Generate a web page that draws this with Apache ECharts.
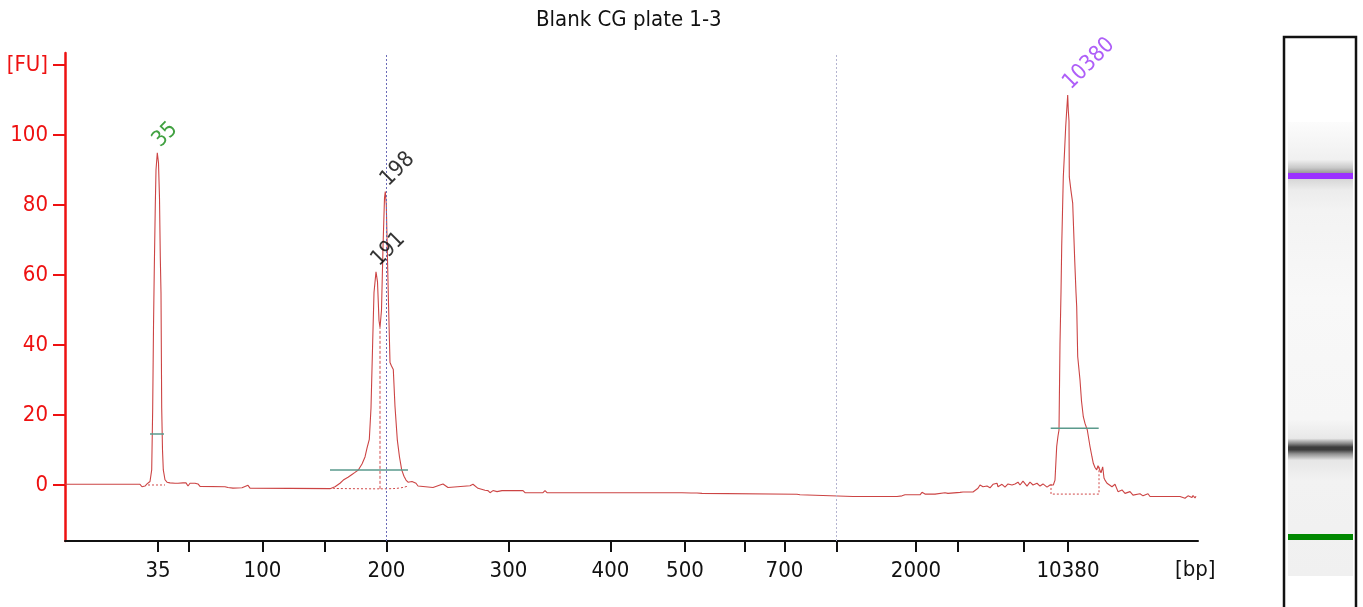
<!DOCTYPE html>
<html>
<head>
<meta charset="utf-8">
<title>Blank CG plate 1-3</title>
<script src="https://cdn.jsdelivr.net/npm/echarts@6/dist/echarts.min.js"></script>
<style>
  html, body { margin: 0; padding: 0; background: #fff; }
  #chart { width: 1363px; height: 607px; }
</style>
</head>
<body>
<div id="chart"></div>
<script>
// migration time [s] and fluorescence [FU] of the trace
const traceTime = [
  36.5, 37.0, 38.0, 38.2, 38.4, 39.3, 39.5, 39.7, 40.3, 40.5, 40.7, 44.0, 44.2, 44.5, 44.7, 44.8,
  45.0, 45.17, 45.27, 45.35, 45.43, 45.53, 45.6, 45.73, 45.85, 45.95, 46.03, 46.1, 46.17, 46.25, 46.33,
  46.5, 46.7, 47.0, 47.2, 47.5, 47.8, 48.0, 48.3, 48.6, 48.8, 49.0, 49.5, 49.8, 50.0, 52.5, 52.6,
  52.8, 53.0, 53.3, 54.2, 54.8, 55.0, 55.2, 63.0, 63.5, 64.0, 64.33, 64.8, 65.2, 65.5, 65.83, 66.2,
  66.5, 66.7, 66.93, 67.1, 67.27, 67.4, 67.6, 67.75, 67.9, 68.0, 68.15, 68.3, 68.45, 68.53, 68.63,
  68.73, 68.85, 69.0, 69.15, 69.33, 69.5, 69.73, 69.95, 70.17, 70.4, 70.6, 70.8, 71.0, 71.2, 71.4,
  71.6, 71.8, 72.0, 73.3, 73.5, 74.0, 74.3, 74.8, 75.0, 77.0, 77.2, 77.3, 77.8, 78.0, 78.5, 78.8,
  79.0, 79.3, 79.7, 80.2, 82.3, 82.5, 84.3, 84.5, 84.7, 86.8, 87.0, 87.2, 98.2, 98.3, 99.1, 99.3,
  99.7, 100.2, 100.3, 109.7, 109.8, 110.0, 110.2, 115.3, 115.5, 115.8, 119.7, 119.8, 120.2, 120.5,
  122.0, 122.2, 122.5, 123.5, 123.7, 124.5, 124.7, 124.8, 126.0, 126.3, 127.3, 127.5, 127.8, 128.0,
  128.3, 128.7, 129.0, 129.3, 129.7, 129.8, 130.2, 130.5, 130.8, 131.2, 131.5, 131.8, 132.0, 132.3,
  132.7, 133.0, 133.3, 133.7, 134.0, 134.3, 134.7, 135.0, 135.2, 135.33, 135.5, 135.67, 135.8, 135.9,
  136.0, 136.1, 136.17, 136.25, 136.33, 136.45, 136.57, 136.67, 136.77, 136.83, 136.9, 136.93, 137.1,
  137.27, 137.47, 137.6, 137.67, 137.77, 138.0, 138.15, 138.33, 138.5, 138.73, 139.0, 139.2, 139.33,
  139.5, 139.67, 139.8, 140.0, 140.1, 140.27, 140.4, 140.5, 140.7, 140.8, 141.2, 141.5, 141.8, 142.2,
  142.5, 143.0, 143.3, 144.0, 144.3, 144.8, 145.0, 147.5, 147.7, 148.0, 148.5, 148.8, 149.2, 149.3,
  149.5, 149.6
];
const traceFU = [
  0.2, 0.2, 0.2, 0.7, 0.2, 0.2, 0.6, 0.2, 0.2, 0.6, 0.2, 0.2, -0.5, -0.3, 0.3, -0.1,
  1.0, 4.3, 22, 45, 62, 80, 90, 94.9, 92, 82, 65, 55, 22, 10, 4.3,
  1.5, 0.8, 0.6, 0.9, 0.5, 0.5, 0.2, 0.6, 0.6, -0.3, 0.5, 0.5, 0.3, -0.4, -0.5, -0.1,
  -0.7, -0.5, -0.9, -0.8, -0.1, -0.9, -1.05, -1.05, -0.5, 0.5, 1.4, 2.2, 3.0, 3.6, 4.3, 6,
  8, 10.5, 13, 22, 41, 55, 60.9, 58, 47, 45, 50, 68, 82, 83.8, 80,
  67, 52, 35, 34, 33, 22.4, 12.9, 8, 4.3, 2.5, 1.4, 0.8, 1.2, 1.0, 1.2,
  0.5, -0.3, -0.5, -0.7, -0.5, 0.0, 0.3, -0.7, -0.2, -0.2, 0.2, 0.2, -0.95, -1.3, -1.5, -1.6,
  -2.2, -1.6, -1.9, -1.6, -1.6, -2.2, -2.2, -1.6, -2.2, -2.2, -1.7, -2.2, -2.2, -1.9, -2.3, -2.7,
  -2.3, -2.4, -2.65, -2.65, -3.0, -2.8, -3.3, -3.3, -3.6, -3.3, -3.3, -2.9, -3.1, -2.8,
  -2.8, -2.1, -2.6, -2.6, -2.1, -2.2, -1.8, -2.4, -2.1, -2.0, -2.0, -1.6, -0.95, 0.0,
  -0.5, -0.3, -0.8, 0.2, 0.5, -0.5, 0.2, -0.6, 0.3, 0.0, 0.3, 0.8, 0.0, 1.1,
  -0.3, 0.8, 0.0, 0.5, -0.3, 0.3, -0.6, 0.0, 0.3, 0.0, 1.4, 11, 14, 15.7,
  40.5, 55, 68, 78, 88, 95, 102.4, 107, 111.4, 107, 104, 88, 84,
  80.5, 64.3, 55, 51, 36.7, 30, 24, 19.5, 17.6, 15.7, 11, 8, 6.2,
  5, 4.3, 5.5, 5.2, 3.5, 5.2, 2, 1.4, 0.5, 0.9, -0.5, 0.2, -1.9, -1.4,
  -2.4, -1.9, -2.9, -2.5, -3.1, -2.5, -3.3, -3.3, -3.8, -3.3, -3.8, -3.1, -3.6, -3.0,
  -3.7, -3.2
];

// x axis ticks (migration time) and their size labels
const tickTimes = [45.8, 48.85, 56.25, 62.45, 68.65, 80.85, 91.05, 98.5, 104.45, 108.45, 113.65, 121.6, 125.8, 132.4, 136.8];
const tickLabels = ['35', '', '100', '', '200', '300', '400', '500', '', '700', '', '2000', '', '', '10380'];
const fuTicks = [0, 20, 40, 60, 80, 100, 120];

// called peaks
const peakTimes = [45.73, 67.6, 68.53, 136.77];
const peakFU = [94.9, 60.9, 83.8, 111.4];
const peakNames = ['35', '191', '198', '10380'];
const peakColors = ['#128a12', '#000000', '#000000', '#9a36f6'];

// peak/region height markers
const markStart = [45.0, 63.0, 135.07];
const markEnd = [46.4, 70.8, 139.87];
const markLevel = [14.6, 4.3, 16.2];

// integration baselines
const base35Time = [44.8, 46.5];
const base35FU = [0, 0];
const base200Time = [63.3, 68.0, 69.5, 70.3, 70.8];
const base200FU = [-1.0, -1.1, -1.0, -0.7, -0.3];
const base10380Time = [135.1, 135.1, 139.9, 139.9];
const base10380FU = [0.3, -2.6, -2.6, 5.2];
const splitTime = [68.0, 68.0];
const splitFU = [-1.1, 45];

const FONT = "'DejaVu Sans Condensed', 'Noto Sans', sans-serif";
const zip = (xs, ys) => xs.map((x, i) => [x, ys[i]]);

const chart = echarts.init(document.getElementById('chart'));

const series = [
  {
    type: 'line',
    data: zip(traceTime, traceFU),
    symbol: 'none',
    lineStyle: { color: '#cc4444', width: 1.1 },
    z: 3,
    markLine: {
      silent: true,
      symbol: 'none',
      label: { show: false },
      data: [
        { xAxis: 68.65, lineStyle: { color: '#6b6bb8', type: [2, 2], width: 1 } },
        { xAxis: 113.65, lineStyle: { color: '#b4b4d0', type: [2, 2], width: 1 } }
      ]
    }
  },
  {
    type: 'line', symbol: 'none', data: zip(base35Time, base35FU),
    lineStyle: { color: '#d04848', width: 1, type: [2, 2] }
  },
  {
    type: 'line', symbol: 'none', smooth: 0.3, data: zip(base200Time, base200FU),
    lineStyle: { color: '#d04848', width: 1, type: [2, 2] }
  },
  {
    type: 'line', symbol: 'none', data: zip(base10380Time, base10380FU),
    lineStyle: { color: '#d04848', width: 1, type: [2, 2] }
  },
  {
    type: 'line', symbol: 'none', data: zip(splitTime, splitFU),
    lineStyle: { color: '#d04848', width: 1, type: [3, 2] }
  }
];

markStart.forEach(function (s, i) {
  series.push({
    type: 'line', symbol: 'none',
    data: [[s, markLevel[i]], [markEnd[i], markLevel[i]]],
    lineStyle: { color: '#5a9a8c', width: 1.5 },
    z: 4
  });
});

// peak size labels, rotated like the instrument software does
series.push({
  type: 'scatter',
  symbolSize: 2,
  itemStyle: { color: 'rgba(0,0,0,0)' },
  data: peakTimes.map(function (t, i) {
    return {
      value: [t, peakFU[i]],
      label: { color: peakColors[i] }
    };
  }),
  label: {
    show: true,
    position: [0, -8],
    align: 'left',
    verticalAlign: 'middle',
    rotate: 45,
    fontSize: 22,
    fontFamily: FONT,
    formatter: function (p) { return peakNames[p.dataIndex]; }
  },
  z: 5
});

const option = {
  animation: false,
  title: {
    text: 'Blank CG plate 1-3',
    left: 531,
    top: 4,
    textStyle: { fontSize: 22, fontWeight: 'normal', color: '#111', fontFamily: FONT }
  },
  grid: { left: 65, right: 165, top: 53, bottom: 66 },
  xAxis: {
    type: 'value',
    min: 36.5,
    max: 149.8,
    axisLine: { onZero: false, lineStyle: { color: '#111', width: 2 } },
    axisTick: { customValues: tickTimes, length: 11, lineStyle: { color: '#111', width: 2 } },
    axisLabel: {
      customValues: tickTimes,
      margin: 19,
      fontSize: 22,
      color: '#111',
      fontFamily: FONT,
      formatter: function (v) {
        const i = tickTimes.findIndex(function (t) { return Math.abs(t - v) < 1e-6; });
        return i >= 0 ? tickLabels[i] : '';
      }
    },
    splitLine: { show: false }
  },
  yAxis: {
    type: 'value',
    min: -16,
    max: 123.4,
    axisLine: { show: true, lineStyle: { color: '#ee1111', width: 2.5 } },
    axisTick: { show: true, customValues: fuTicks, length: 12, lineStyle: { color: '#ee1111', width: 2 } },
    axisLabel: {
      customValues: fuTicks,
      margin: 17,
      fontSize: 22,
      color: '#ee1111',
      fontFamily: FONT,
      formatter: function (v) { return v === 120 ? '[FU]' : String(v); }
    },
    splitLine: { show: false }
  },
  graphic: [
    {
      type: 'text',
      x: 1175, y: 559,
      style: { text: '[bp]', fill: '#111', font: '22px ' + FONT }
    },
    {
      type: 'rect', z: 1,
      shape: { x: 1284, y: 37, width: 72, height: 620 },
      style: { fill: '#fff' }
    },
    {
      type: 'rect', z: 2,
      shape: { x: 1288, y: 122, width: 65, height: 454 },
      style: {
        fill: new echarts.graphic.LinearGradient(0, 0, 0, 1, [
          { offset: 0, color: '#fcfcfc' },
          { offset: 0.083, color: '#f0f0f0' },
          { offset: 0.101, color: '#c8c8c8' },
          { offset: 0.112, color: '#9a9a9a' },
          { offset: 0.127, color: '#d8d8d8' },
          { offset: 0.15, color: '#ececec' },
          { offset: 0.195, color: '#f3f3f3' },
          { offset: 0.39, color: '#f8f8f8' },
          { offset: 0.655, color: '#f6f6f6' },
          { offset: 0.697, color: '#e8e8e8' },
          { offset: 0.708, color: '#8a8a8a' },
          { offset: 0.716, color: '#3c3c3c' },
          { offset: 0.722, color: '#3c3c3c' },
          { offset: 0.731, color: '#909090' },
          { offset: 0.745, color: '#e6e6e6' },
          { offset: 0.79, color: '#f2f2f2' },
          { offset: 1, color: '#f0f0f0' }
        ])
      }
    },
    {
      type: 'rect', z: 3,
      shape: { x: 1288, y: 173, width: 65, height: 6 },
      style: { fill: '#9b30ff' }
    },
    {
      type: 'rect', z: 3,
      shape: { x: 1288, y: 534, width: 65, height: 6 },
      style: { fill: '#008800' }
    },
    {
      type: 'rect', z: 4,
      shape: { x: 1284, y: 37, width: 72, height: 620 },
      style: { fill: 'none', stroke: '#111', lineWidth: 2.5 }
    }
  ],
  series: series
};

chart.setOption(option);
</script>
</body>
</html>
